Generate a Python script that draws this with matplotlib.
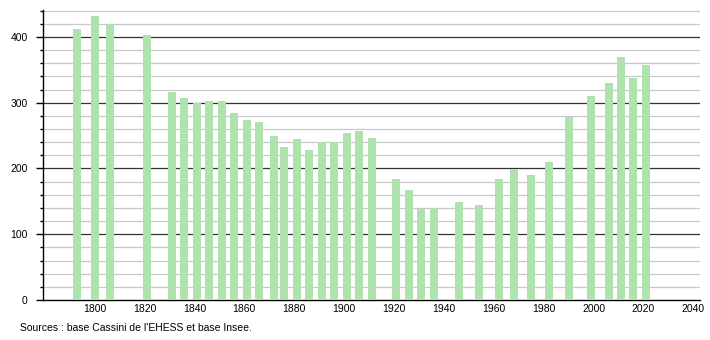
import numpy as np
import matplotlib.pyplot as plt
from matplotlib.ticker import MultipleLocator

plt.rcParams['font.family'] = ['Liberation Sans', 'DejaVu Sans']

# années de recensement et population
annees = [1793, 1800, 1806, 1821, 1831, 1836, 1841, 1846, 1851, 1856, 1861, 1866,
          1872, 1876, 1881, 1886, 1891, 1896, 1901, 1906, 1911, 1921, 1926, 1931,
          1936, 1946, 1954, 1962, 1968, 1975, 1982, 1990, 1999, 2006, 2011, 2016, 2021]
population = [412, 432, 419, 403, 316, 307, 299, 303, 302, 284, 274, 271,
              250, 232, 245, 228, 240, 240, 254, 257, 246, 184, 167, 139,
              140, 149, 144, 184, 199, 190, 210, 279, 310, 330, 370, 338, 357]
xticks = list(range(1800, 2041, 20))
yticks = [0, 100, 200, 300, 400]
source = "Sources : base Cassini de l'EHESS et base Insee."

fig = plt.figure(figsize=(7.1, 3.4), dpi=100)
ax = fig.add_axes([0.0606, 0.1176, 0.9254, 0.853])

ax.bar(annees, population, width=3.2, color='#aee3ae', zorder=3)

ax.set_xlim(1779.3, 2042.7)
ax.set_ylim(0, 441)
ax.set_xticks(xticks)
ax.set_yticks(yticks)
ax.yaxis.set_minor_locator(MultipleLocator(20))

# grille
for v in range(20, 441, 20):
    if v % 100 == 0:
        ax.axhline(v, color='#333333', lw=0.9, zorder=1)
    else:
        ax.axhline(v, color='#c8c8c8', lw=0.9, zorder=1)

for s in ['top', 'right']:
    ax.spines[s].set_visible(False)
ax.spines['left'].set_color('black')
ax.spines['bottom'].set_color('black')
ax.spines['left'].set_linewidth(1.0)
ax.spines['bottom'].set_linewidth(1.0)

ax.tick_params(axis='x', length=0, labelsize=7.5, pad=3)
ax.tick_params(axis='y', which='major', length=5, width=1, labelsize=7.5, pad=6)
ax.tick_params(axis='y', which='minor', length=2.5, width=1)

fig.text(0.028, 0.035, source, fontsize=7.5, ha='left', va='center')

plt.savefig('out.png', dpi=100)
